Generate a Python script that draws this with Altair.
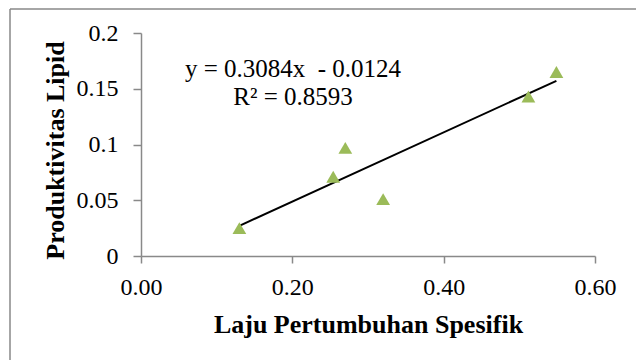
import altair as alt
import pandas as pd

# ---- data ----
growth_rate = [0.130, 0.254, 0.270, 0.320, 0.512, 0.549]
lipid_productivity = [0.025, 0.071, 0.097, 0.051, 0.143, 0.165]
x_ticks = [0.0, 0.2, 0.4, 0.6]
y_ticks = [0, 0.05, 0.1, 0.15, 0.2]
equation_lines = ["y = 0.3084x\u00a0 - 0.0124", "R\u00b2 = 0.8593"]

df = pd.DataFrame({"laju": growth_rate, "lipid": lipid_productivity})

FONT = "Liberation Serif"
GREY = "#898989"
GREEN = "#9BBB59"

x_enc = alt.X(
    "laju:Q",
    scale=alt.Scale(domain=[0, 0.6], nice=False, zero=False),
    axis=alt.Axis(
        values=x_ticks, format=".2f", title="Laju Pertumbuhan Spesifik",
        tickSize=7, labelPadding=12, labelFlush=False,
        titleX=227, titleY=76, titleBaseline="alphabetic", titleAlign="center",
    ),
)
y_enc = alt.Y(
    "lipid:Q",
    scale=alt.Scale(domain=[0, 0.2], nice=False, zero=False),
    axis=alt.Axis(
        values=y_ticks, format="~g", title="Produktivitas Lipid",
        tickSize=8, labelPadding=15, labelFlush=False,
        titleAngle=270, titleX=-78, titleY=117, titleBaseline="alphabetic",
        titleAlign="center",
    ),
)

base = alt.Chart(df)

points = base.mark_point(
    shape="triangle-up", filled=True, size=190, color=GREEN, opacity=1
).encode(x=x_enc, y=y_enc)

trend = (
    base.transform_regression("laju", "lipid", method="linear")
    .mark_line(color="black", strokeWidth=2)
    .encode(x="laju:Q", y="lipid:Q")
)

one = alt.Chart(pd.DataFrame({"k": [0]}))

equation = one.mark_text(
    text=equation_lines, font=FONT, fontSize=25, color="black",
    align="center", baseline="alphabetic", lineHeight=28,
).encode(x=alt.value(152), y=alt.value(44))

frame_top = one.mark_rule(color=GREY, strokeWidth=1.5).encode(
    x=alt.value(-131), x2=alt.value(600), y=alt.value(-24)
)
frame_left = one.mark_rule(color=GREY, strokeWidth=1.5).encode(
    x=alt.value(-131), y=alt.value(-24), y2=alt.value(400)
)

chart = (
    alt.layer(frame_top, frame_left, trend, points, equation)
    .properties(
        width=454, height=223,
        autosize=alt.AutoSizeParams(type="none"),
        padding={"left": 141, "top": 33, "right": 41, "bottom": 104},
        background="white",
    )
    .configure_view(stroke=None)
    .configure_axis(
        grid=False,
        domainColor=GREY, domainWidth=1.5,
        tickColor=GREY, tickWidth=1.5,
        labelFont=FONT, labelFontSize=24, labelColor="black",
        titleFont=FONT, titleFontSize=26, titleFontWeight="bold", titleColor="black",
    )
)

chart.save("out.html", embed_options={"renderer": "svg", "actions": False})
